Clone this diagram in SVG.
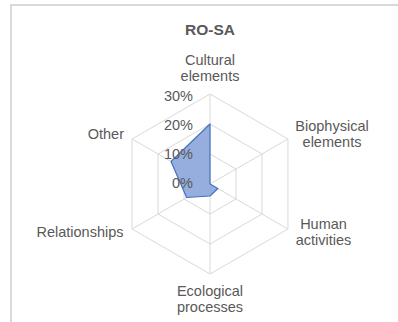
<svg xmlns="http://www.w3.org/2000/svg" width="398" height="322" viewBox="0 0 398 322">
<style>
.grid{fill:none;stroke:#d9d9d9;stroke-width:1}
.lbl{font-family:"Liberation Sans",Arial,sans-serif;font-size:14.5px;fill:#595959}
.val{font-family:"Liberation Sans",Arial,sans-serif;font-size:14.5px;fill:#595959;text-anchor:end}
.title{font-family:"Liberation Sans",Arial,sans-serif;font-size:15.5px;font-weight:bold;fill:#595959;text-anchor:middle}
</style>
<rect width="398" height="322" fill="#ffffff"/>
<rect id="frame" x="11" y="5" width="400" height="400" fill="none" stroke="#d9d9d9" stroke-width="2"/>
<text id="title" class="title" x="210" y="35">RO-SA</text>
<g id="grid">
<polygon class="grid" points="210,154 235.98,169 235.98,199 210,214 184.02,199 184.02,169"/>
<polygon class="grid" points="210,124 261.96,154 261.96,214 210,244 158.04,214 158.04,154"/>
<polygon class="grid" points="210,94 287.94,139 287.94,229 210,274 132.06,229 132.06,139"/>
<path class="grid" d="M210,184V94M210,184L287.94,139M210,184L287.94,229M210,184V274M210,184L132.06,229M210,184L132.06,139"/>
</g>
<g id="series">
<polygon points="210,124 210,184 217.79,188.5 210,196 186.62,197.5 171.03,161.5" fill="#8faadc" fill-opacity="0.95" stroke="#4472c4" stroke-width="1.2" stroke-linejoin="round"/>
</g>
<g id="values">
<text class="val" x="193" y="101">30%</text>
<text class="val" x="193" y="130">20%</text>
<text class="val" x="193" y="159">10%</text>
<text class="val" x="193" y="188">0%</text>
</g>
<g id="axis-cultural"><text class="lbl" text-anchor="middle" x="210" y="65">Cultural</text><text class="lbl" text-anchor="middle" x="210" y="81">elements</text></g>
<g id="axis-biophysical"><text class="lbl" text-anchor="middle" x="332" y="131">Biophysical</text><text class="lbl" text-anchor="middle" x="332" y="147">elements</text></g>
<g id="axis-human"><text class="lbl" text-anchor="middle" x="323.5" y="229">Human</text><text class="lbl" text-anchor="middle" x="323.5" y="245">activities</text></g>
<g id="axis-ecological"><text class="lbl" text-anchor="middle" x="210" y="296">Ecological</text><text class="lbl" text-anchor="middle" x="210" y="312">processes</text></g>
<g id="axis-relationships"><text class="lbl" text-anchor="end" x="123.5" y="237">Relationships</text></g>
<g id="axis-other"><text class="lbl" text-anchor="end" x="124" y="139">Other</text></g>
</svg>
